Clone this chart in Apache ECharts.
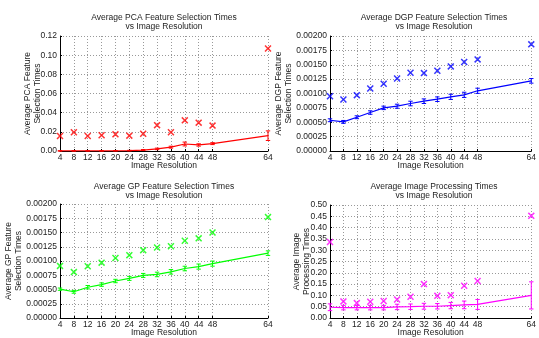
<!DOCTYPE html>
<html>
<head>
<meta charset="utf-8">
<script src="https://cdn.jsdelivr.net/npm/echarts@6/dist/echarts.min.js"></script>
<style>
html,body{margin:0;padding:0;background:#fff;}
#chart{width:539px;height:338px;}
</style>
</head>
<body>
<div id="chart"></div>
<script>
// ---- data ----
const resolutions = [4, 8, 12, 16, 20, 24, 28, 32, 36, 40, 44, 48, 64];
const xTickLabels = [4, 8, 12, 16, 20, 24, 28, 32, 36, 40, 44, 48, 64];

const pcaMax = [0.0157, 0.0195, 0.0157, 0.0164, 0.0174, 0.0160, 0.0180, 0.0270, 0.0195, 0.0320, 0.0296, 0.0265, 0.1070];
const pcaMean = [0.0001, 0.0001, 0.0001, 0.0001, 0.0002, 0.0004, 0.0010, 0.0022, 0.0040, 0.0073, 0.0063, 0.0077, 0.0160];
const pcaErr = [0.0002, 0.0002, 0.0002, 0.0002, 0.0002, 0.0003, 0.0005, 0.0008, 0.0010, 0.0020, 0.0012, 0.0010, 0.0050];

const dgpMax = [0.000953, 0.000895, 0.000971, 0.001087, 0.001169, 0.001262, 0.001360, 0.001355, 0.001395, 0.001471, 0.001547, 0.001593, 0.001855];
const dgpMean = [0.000535, 0.000506, 0.000587, 0.000669, 0.000750, 0.000779, 0.000826, 0.000866, 0.000901, 0.000942, 0.000977, 0.001047, 0.001220];
const dgpErr = [0.000025, 0.000025, 0.000025, 0.000030, 0.000030, 0.000035, 0.000040, 0.000040, 0.000040, 0.000045, 0.000045, 0.000045, 0.000040];

const gpMax = [0.000914, 0.000805, 0.000908, 0.000971, 0.001052, 0.001103, 0.001190, 0.001236, 0.001259, 0.001356, 0.001397, 0.001500, 0.001770];
const gpMean = [0.000506, 0.000460, 0.000540, 0.000586, 0.000649, 0.000695, 0.000747, 0.000764, 0.000810, 0.000868, 0.000902, 0.000954, 0.001138];
const gpErr = [0.000020, 0.000025, 0.000030, 0.000030, 0.000030, 0.000035, 0.000035, 0.000040, 0.000040, 0.000040, 0.000045, 0.000045, 0.000040];

const procMax = [0.336, 0.0735, 0.066, 0.072, 0.075, 0.082, 0.094, 0.150, 0.098, 0.101, 0.143, 0.164, 0.452];
const procMean = [0.0476, 0.046, 0.046, 0.046, 0.046, 0.049, 0.050, 0.052, 0.052, 0.055, 0.058, 0.060, 0.100];
const procErr = [0.015, 0.010, 0.010, 0.010, 0.010, 0.012, 0.012, 0.013, 0.012, 0.014, 0.017, 0.022, 0.060];

const titles = [
  'Average PCA Feature Selection Times\nvs Image Resolution',
  'Average DGP Feature Selection Times\nvs Image Resolution',
  'Average GP Feature Selection Times\nvs Image Resolution',
  'Average Image Processing Times\nvs Image Resolution'
];
const yNames = [
  'Average PCA Feature\nSelection Times',
  'Average DGP Feature\nSelection Times',
  'Average GP Feature\nSelection Times',
  'Average Image\nProcessing Times'
];
const xName = 'Image Resolution';
const yMax = [0.12, 0.002, 0.002, 0.5];
const yInterval = [0.02, 0.00025, 0.00025, 0.05];
const yDecimals = [2, 5, 5, 2];
const colors = ['#ff0000', '#0000ff', '#00ff00', '#ff00ff'];
const maxSets = [pcaMax, dgpMax, gpMax, procMax];
const meanSets = [pcaMean, dgpMean, gpMean, procMean];
const errSets = [pcaErr, dgpErr, gpErr, procErr];

// ---- layout ----
const FONT = 'Liberation Sans, Arial, sans-serif';
const FS = 8.5;
const grids = [
  {left: 60, top: 36, width: 208, height: 115},
  {left: 330, top: 36, width: 208, height: 115},
  {left: 60, top: 204, width: 208, height: 116},
  {left: 330, top: 205, width: 208, height: 115}
];
const yNameGap = [17, 36, 36, 18];
const titleTops = [12.5, 12.5, 181.5, 181.5];

const xSymbol = 'path://M0,1.5L1.5,0L5,3.5L8.5,0L10,1.5L6.5,5L10,8.5L8.5,10L5,6.5L1.5,10L0,8.5L3.5,5Z';

function errRender(params, api) {
  const x = api.value(0);
  const lo = api.coord([x, api.value(1)]);
  const hi = api.coord([x, api.value(2)]);
  const c = api.visual('color');
  const w = 2.2;
  const st = {stroke: c, lineWidth: 1};
  return {
    type: 'group',
    children: [
      {type: 'line', shape: {x1: lo[0], y1: lo[1], x2: hi[0], y2: hi[1]}, style: st},
      {type: 'line', shape: {x1: lo[0] - w, y1: lo[1], x2: lo[0] + w, y2: lo[1]}, style: st},
      {type: 'line', shape: {x1: hi[0] - w, y1: hi[1], x2: hi[0] + w, y2: hi[1]}, style: st}
    ]
  };
}

const option = {
  animation: false,
  backgroundColor: '#ffffff',
  textStyle: {fontFamily: FONT},
  title: titles.map((t, i) => ({
    text: t,
    left: grids[i].left + grids[i].width / 2,
    top: titleTops[i],
    padding: 0,
    textAlign: 'center',
    textVerticalAlign: 'top',
    textStyle: {fontSize: FS, fontWeight: 'normal', color: '#222', lineHeight: 9.5, fontFamily: FONT}
  })),
  grid: grids.map(g => Object.assign({containLabel: false}, g)),
  xAxis: grids.map((g, i) => ({
    type: 'value',
    gridIndex: i,
    min: 4,
    max: 64,
    name: xName,
    nameLocation: 'middle',
    nameGap: 10,
    nameMoveOverlap: false,
    nameTextStyle: {fontSize: FS, color: '#222', fontFamily: FONT},
    axisLine: {show: true, lineStyle: {color: '#000', width: 1}},
    axisTick: {show: true, inside: true, length: 2, customValues: xTickLabels, lineStyle: {color: '#000'}},
    axisLabel: {customValues: xTickLabels, fontSize: FS, color: '#222', margin: 2, fontFamily: FONT, showMaxLabel: true, showMinLabel: true},
    splitLine: {show: true, lineStyle: {type: [1, 2], color: '#999', width: 1}}
  })),
  yAxis: grids.map((g, i) => ({
    type: 'value',
    gridIndex: i,
    min: 0,
    max: yMax[i],
    interval: yInterval[i],
    name: yNames[i],
    nameLocation: 'middle',
    nameRotate: 90,
    nameGap: yNameGap[i],
    nameMoveOverlap: false,
    nameTextStyle: {fontSize: FS, color: '#222', lineHeight: 10, fontFamily: FONT},
    axisLine: {show: true, lineStyle: {color: '#000', width: 1}},
    axisTick: {show: true, inside: true, length: 2, lineStyle: {color: '#000'}},
    axisLabel: {fontSize: FS, color: '#222', margin: 3, fontFamily: FONT,
      formatter: v => v.toFixed(yDecimals[i])},
    splitLine: {show: true, lineStyle: {type: [1, 2], color: '#999', width: 1}}
  })),
  series: []
};

for (let i = 0; i < 4; i++) {
  option.series.push({
    type: 'scatter',
    xAxisIndex: i, yAxisIndex: i,
    symbol: xSymbol,
    symbolSize: 7,
    itemStyle: {color: colors[i]},
    data: resolutions.map((r, k) => [r, maxSets[i][k]]),
    z: 3
  });
  option.series.push({
    type: 'line',
    xAxisIndex: i, yAxisIndex: i,
    showSymbol: false,
    symbol: 'none',
    lineStyle: {color: colors[i], width: 1.2},
    itemStyle: {color: colors[i]},
    data: resolutions.map((r, k) => [r, meanSets[i][k]]),
    z: 2
  });
  option.series.push({
    type: 'custom',
    xAxisIndex: i, yAxisIndex: i,
    renderItem: errRender,
    itemStyle: {color: colors[i]},
    clip: false,
    data: resolutions.map((r, k) => [r, meanSets[i][k] - errSets[i][k], meanSets[i][k] + errSets[i][k]]),
    z: 2
  });
}

const chart = echarts.init(document.getElementById('chart'), null, {renderer: 'canvas'});
chart.setOption(option);
</script>
</body>
</html>
